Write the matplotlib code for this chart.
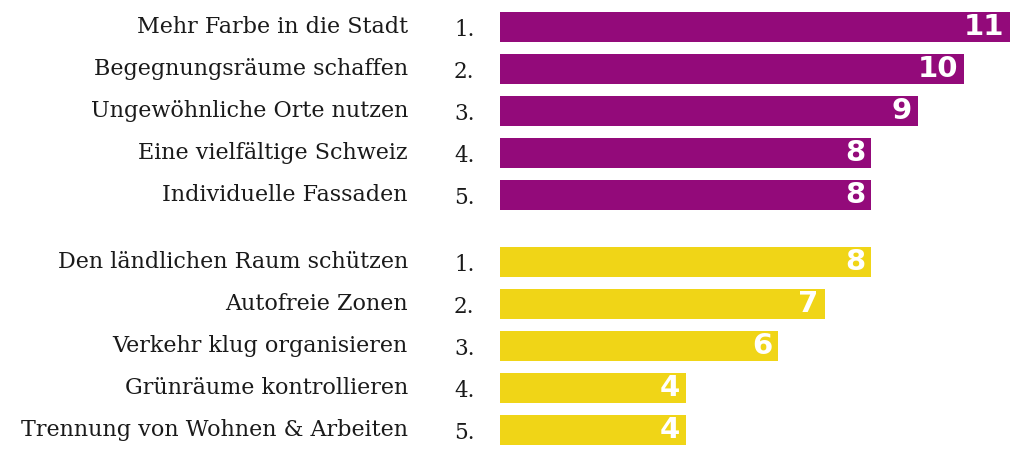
import matplotlib
matplotlib.use("Agg")
import matplotlib.pyplot as plt
import matplotlib.transforms as mtransforms

# Themen der Stadt-Umfrage: oben gewünscht (violett), unten abgelehnt (gelb)
top_labels = [
    "Mehr Farbe in die Stadt",
    "Begegnungsräume schaffen",
    "Ungewöhnliche Orte nutzen",
    "Eine vielfältige Schweiz",
    "Individuelle Fassaden",
]
top_values = [11, 10, 9, 8, 8]

bottom_labels = [
    "Den ländlichen Raum schützen",
    "Autofreie Zonen",
    "Verkehr klug organisieren",
    "Grünräume kontrollieren",
    "Trennung von Wohnen & Arbeiten",
]
bottom_values = [8, 7, 6, 4, 4]

ranks = ["1.", "2.", "3.", "4.", "5."]

PURPLE = "#930a7a"
YELLOW = "#f0d517"
GROUP_GAP = 0.6

W, H, DPI = 1014, 449, 100
fig = plt.figure(figsize=(W / DPI, H / DPI), dpi=DPI)
ax = fig.add_axes([500 / W, 0, 1 - 500 / W, 1])

# Zeilenpositionen: Gruppe 2 mit etwas Abstand unter Gruppe 1
y_top = list(range(len(top_values)))
y_bottom = [len(top_values) + GROUP_GAP + i for i in range(len(bottom_values))]

ax.barh(y_top, top_values, height=0.714, color=PURPLE)
ax.barh(y_bottom, bottom_values, height=0.714, color=YELLOW)

ax.set_xlim(0, (W - 500) / 46.4)
ax.set_ylim((H - 27) / 42, -27 / 42)
ax.axis("off")

label_tf = mtransforms.blended_transform_factory(fig.transFigure, ax.transData)
shift_px = mtransforms.ScaledTranslation(-6 / DPI, 0, fig.dpi_scale_trans)
down_px = mtransforms.ScaledTranslation(0, -3 / DPI, fig.dpi_scale_trans)

serif = "DejaVu Serif"
for ys, labels, values in [(y_top, top_labels, top_values),
                           (y_bottom, bottom_labels, bottom_values)]:
    for y, lab, v, r in zip(ys, labels, values, ranks):
        ax.text(408 / W, y, lab, transform=label_tf, ha="right", va="center",
                fontsize=16, family=serif, color="#1a1a1a")
        ax.text(454 / W, y, r, transform=label_tf + down_px, ha="left",
                va="center", fontsize=15.5, family=serif, color="#1a1a1a")
        ax.text(v, y, str(v), transform=ax.transData + shift_px, ha="right",
                va="center", fontsize=21, fontweight="bold",
                family="DejaVu Sans", color="white")

fig.savefig("out.png", dpi=DPI)
